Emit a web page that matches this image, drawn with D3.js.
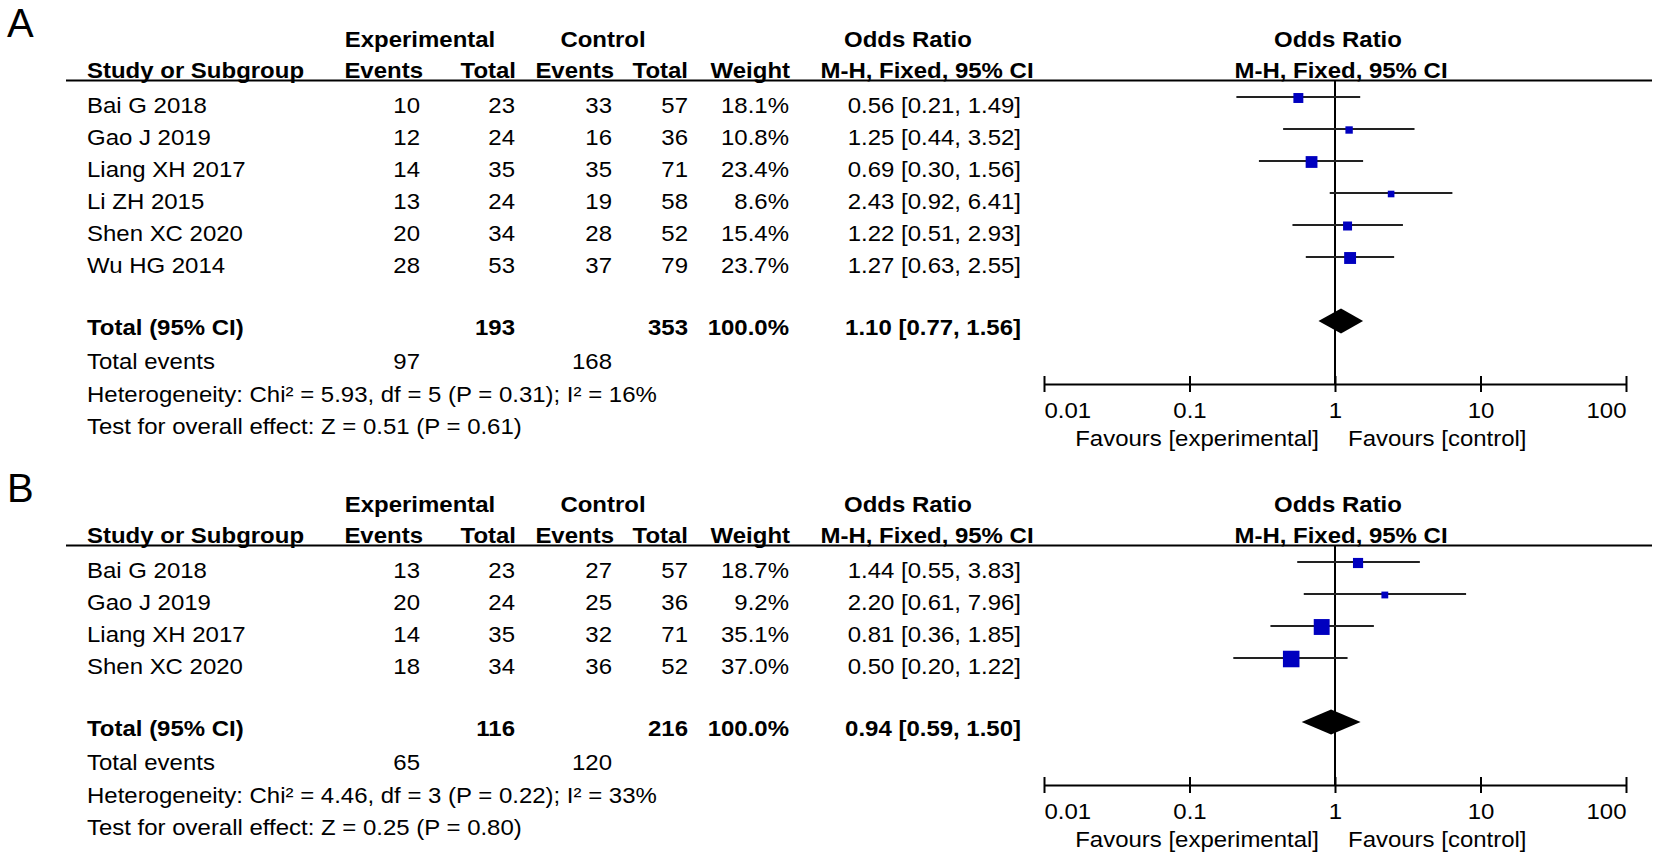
<!DOCTYPE html>
<html><head><meta charset="utf-8">
<script src="https://cdn.jsdelivr.net/npm/d3@7"></script>
<style>
html,body{margin:0;padding:0;background:#fff;}
svg{display:block;font-family:"Liberation Sans",Arial,sans-serif;}
</style></head>
<body>
<svg id="chart" width="1654" height="860"></svg>
<script>
// ---------- DATA ----------
const tickValues = [0.01, 0.1, 1, 10, 100];
const tickLabels = ["0.01", "0.1", "1", "10", "100"];

// Panel A
const studiesA = ["Bai G 2018", "Gao J 2019", "Liang XH 2017", "Li ZH 2015", "Shen XC 2020", "Wu HG 2014"];
const expEventsA = [10, 12, 14, 13, 20, 28];
const expTotalA = [23, 24, 35, 24, 34, 53];
const ctrlEventsA = [33, 16, 35, 19, 28, 37];
const ctrlTotalA = [57, 36, 71, 58, 52, 79];
const weightA = [18.1, 10.8, 23.4, 8.6, 15.4, 23.7];
const orA = [0.56, 1.25, 0.69, 2.43, 1.22, 1.27];
const lowA = [0.21, 0.44, 0.30, 0.92, 0.51, 0.63];
const highA = [1.49, 3.52, 1.56, 6.41, 2.93, 2.55];
const totalA = [193, 353, 97, 168];          // exp total, ctrl total, exp events, ctrl events
const pooledA = [1.10, 0.77, 1.56];
const hetA = "Heterogeneity: Chi² = 5.93, df = 5 (P = 0.31); I² = 16%";
const testA = "Test for overall effect: Z = 0.51 (P = 0.61)";

// Panel B
const studiesB = ["Bai G 2018", "Gao J 2019", "Liang XH 2017", "Shen XC 2020"];
const expEventsB = [13, 20, 14, 18];
const expTotalB = [23, 24, 35, 34];
const ctrlEventsB = [27, 25, 32, 36];
const ctrlTotalB = [57, 36, 71, 52];
const weightB = [18.7, 9.2, 35.1, 37.0];
const orB = [1.44, 2.20, 0.81, 0.50];
const lowB = [0.55, 0.61, 0.36, 0.20];
const highB = [3.83, 7.96, 1.85, 1.22];
const totalB = [116, 216, 65, 120];
const pooledB = [0.94, 0.59, 1.50];
const hetB = "Heterogeneity: Chi² = 4.46, df = 3 (P = 0.22); I² = 33%";
const testB = "Test for overall effect: Z = 0.25 (P = 0.80)";

// ---------- DRAW ----------
const svg = d3.select("#chart");
const SX = 1.09, FS = 22;
const x = d3.scaleLog().domain([0.01, 100]).range([1044, 1626]);
const boxSize = d3.scaleLinear().domain([0, 100]).range([3.6, 38.6]);

function txt(g, px, py, s, anchor, bold) {
  g.append("text")
    .attr("transform", `translate(${px},${py}) scale(${SX},1)`)
    .attr("text-anchor", anchor || "start")
    .style("font-size", FS + "px")
    .style("font-weight", bold ? 700 : 400)
    .attr("fill", "#000")
    .text(s);
}

function panel(oy, letter, P) {
  const g = svg.append("g");
  g.append("text").attr("x", 7).attr("y", oy + 37)
    .style("font-family", "'Liberation Sans', sans-serif").style("font-size", "40px").text(letter);

  // headers
  txt(g, 420, oy + 47, "Experimental", "middle", true);
  txt(g, 603, oy + 47, "Control", "middle", true);
  txt(g, 908, oy + 47, "Odds Ratio", "middle", true);
  txt(g, 1338, oy + 47, "Odds Ratio", "middle", true);
  txt(g, 87, oy + 78, "Study or Subgroup", "start", true);
  txt(g, 423, oy + 78, "Events", "end", true);
  txt(g, 516, oy + 78, "Total", "end", true);
  txt(g, 614, oy + 78, "Events", "end", true);
  txt(g, 688, oy + 78, "Total", "end", true);
  txt(g, 790, oy + 78, "Weight", "end", true);
  txt(g, 927, oy + 78, "M-H, Fixed, 95% CI", "middle", true);
  txt(g, 1341, oy + 78, "M-H, Fixed, 95% CI", "middle", true);
  g.append("line").attr("x1", 66).attr("x2", 1652).attr("y1", oy + 80.5).attr("y2", oy + 80.5)
    .attr("stroke", "#000").attr("stroke-width", 2);

  const rowY = i => oy + 97 + 32 * i;
  const n = P.studies.length;
  const totY = rowY(n + 1);
  const axisY = totY + 63;

  // reference line at OR = 1
  g.append("line").attr("x1", x(1)).attr("x2", x(1)).attr("y1", oy + 81).attr("y2", axisY)
    .attr("stroke", "#000").attr("stroke-width", 2);

  P.studies.forEach((s, i) => {
    const cy = rowY(i), by = cy + 15.5;
    txt(g, 87, by, s);
    txt(g, 420, by, P.expEvents[i], "end");
    txt(g, 515, by, P.expTotal[i], "end");
    txt(g, 612, by, P.ctrlEvents[i], "end");
    txt(g, 688, by, P.ctrlTotal[i], "end");
    txt(g, 789, by, P.weight[i].toFixed(1) + "%", "end");
    txt(g, 1021, by, `${P.or[i].toFixed(2)} [${P.low[i].toFixed(2)}, ${P.high[i].toFixed(2)}]`, "end");
    g.append("line").attr("x1", x(P.low[i])).attr("x2", x(P.high[i])).attr("y1", cy).attr("y2", cy)
      .attr("stroke", "#222").attr("stroke-width", 2);
    const b = boxSize(P.weight[i]);
    g.append("rect").attr("x", x(P.or[i]) - b / 2).attr("y", cy - b / 2 + 1)
      .attr("width", b).attr("height", b).attr("fill", "#0000bf");
  });

  // total row
  const tb = totY + 13.5;
  txt(g, 87, tb, "Total (95% CI)", "start", true);
  txt(g, 515, tb, P.total[0], "end", true);
  txt(g, 688, tb, P.total[1], "end", true);
  txt(g, 789, tb, "100.0%", "end", true);
  txt(g, 1021, tb, `${P.pooled[0].toFixed(2)} [${P.pooled[1].toFixed(2)}, ${P.pooled[2].toFixed(2)}]`, "end", true);
  const dh = 12.5;
  g.append("path")
    .attr("d", `M${x(P.pooled[1])},${totY}L${x(P.pooled[0])},${totY - dh}L${x(P.pooled[2])},${totY}L${x(P.pooled[0])},${totY + dh}Z`)
    .attr("fill", "#000");

  txt(g, 87, totY + 48, "Total events");
  txt(g, 420, totY + 48, P.total[2], "end");
  txt(g, 612, totY + 48, P.total[3], "end");
  txt(g, 87, totY + 80.5, P.het);
  txt(g, 87, totY + 113, P.test);

  // axis
  const ax = d3.axisBottom(x).tickValues(tickValues)
    .tickFormat((d, i) => tickLabels[i]).tickSizeInner(8).tickSizeOuter(0);
  const axg = g.append("g").attr("transform", `translate(0,${axisY})`).call(ax);
  axg.select(".domain").attr("stroke", "#000").attr("stroke-width", 2);
  axg.selectAll(".tick line").attr("y1", -8).attr("y2", 8).attr("stroke", "#000").attr("stroke-width", 2);
  axg.selectAll(".tick text").attr("y", 34).attr("dy", null)
    .attr("transform", `scale(${SX},1)`)
    .attr("x", 0)
    .style("font-size", FS + "px").style("font-family", "'Liberation Sans',Arial,sans-serif").attr("fill", "#000")
    .attr("text-anchor", (d, i) => i === 0 ? "start" : (i === tickValues.length - 1 ? "end" : "middle"));
  txt(g, x(1) - 16, axisY + 62, "Favours [experimental]", "end");
  txt(g, x(1) + 13, axisY + 62, "Favours [control]", "start");
}

panel(0, "A", {studies: studiesA, expEvents: expEventsA, expTotal: expTotalA, ctrlEvents: ctrlEventsA,
  ctrlTotal: ctrlTotalA, weight: weightA, or: orA, low: lowA, high: highA, total: totalA, pooled: pooledA, het: hetA, test: testA});
panel(465, "B", {studies: studiesB, expEvents: expEventsB, expTotal: expTotalB, ctrlEvents: ctrlEventsB,
  ctrlTotal: ctrlTotalB, weight: weightB, or: orB, low: lowB, high: highB, total: totalB, pooled: pooledB, het: hetB, test: testB});
</script>
</body></html>
